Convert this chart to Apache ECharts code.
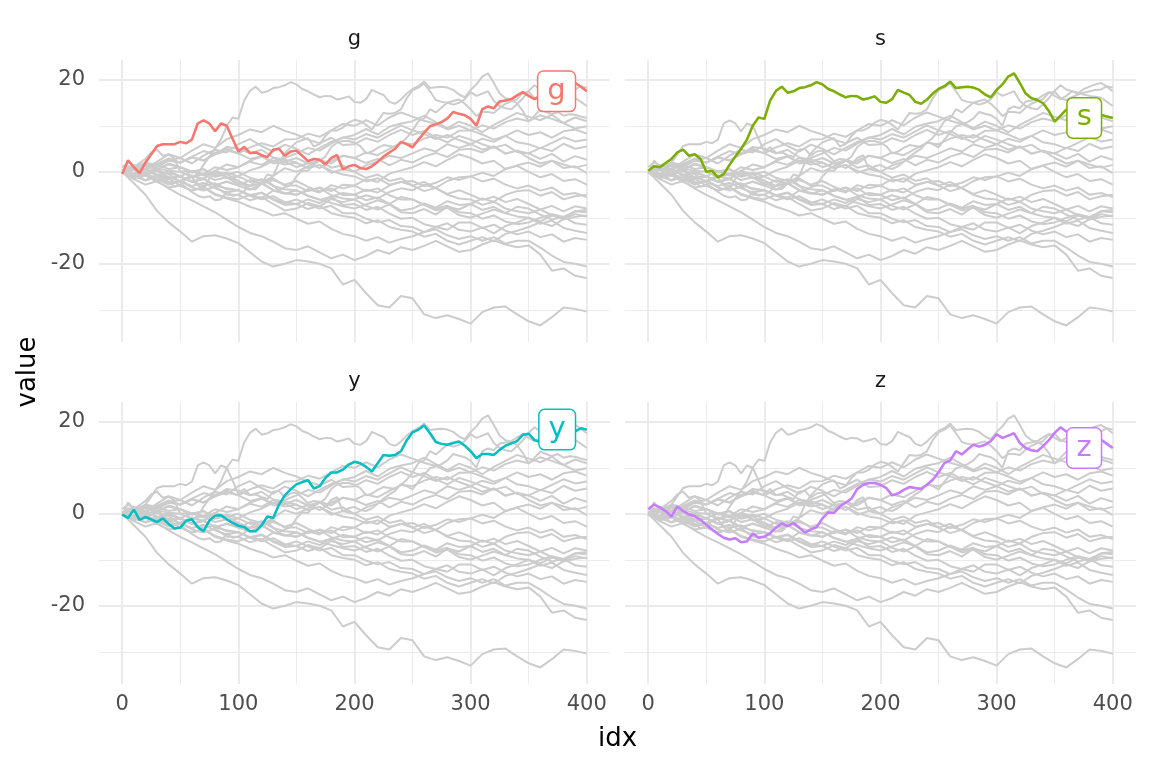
<!DOCTYPE html>
<html>
<head>
<meta charset="utf-8">
<script src="https://cdn.jsdelivr.net/npm/echarts@6/dist/echarts.min.js"></script>
<style>
  html, body { margin: 0; padding: 0; background: #fff; }
  #chart { width: 1152px; height: 768px; }
</style>
</head>
<body>
<div id="chart"></div>
<script>
// idx positions the walks were read at
const idxCoarse = [0,10,20,30,40,50,60,70,80,90,100,110,120,130,140,150,160,170,180,190,200,
  210,220,230,240,250,260,270,280,290,300,310,320,330,340,350,360,370,380,390,400];
const idxFine = [0,5,10,15,20,25,30,35,40,45,50,55,60,65,70,75,80,85,90,95,100,
  105,110,115,120,125,130,135,140,145,150,155,160,165,170,175,180,185,190,195,200,
  205,210,215,220,225,230,235,240,245,250,255,260,265,270,275,280,285,290,295,300,
  305,310,315,320,325,330,335,340,345,350,355,360,365,370,375,380,385,390,395,400];

const xTicks = [0, 100, 200, 300, 400];
const yTicks = [-20, 0, 20];

// highlighted walks (read every 5 idx)
const walkG = [-0.5,2.5,1.0,-0.3,2.0,3.8,5.6,6.0,6.0,6.0, 6.5,6.2,7.0,10.5,11.2,10.5,8.8,10.5,10.0,7.2,
  4.4,5.4,4.1,4.2,3.6,3.2,4.8,5.0,3.5,4.4, 4.6,3.5,2.3,2.8,2.6,1.6,3.0,3.6,0.5,1.2,
  1.5,0.8,0.6,1.2,2.2,3.3,4.2,5.0,6.5,6.0, 5.3,7.0,8.5,9.9,10.3,10.8,11.6,13.0,12.6,12.3,
  11.5,10.0,13.6,14.2,13.8,15.3,15.5,15.8,16.6,17.3, 16.5,15.8,16.5,17.5,17.0,18.0,18.5,19.0,19.3,18.5, 17.5];
const walkS = [0.2,1.2,1.0,1.9,2.8,4.2,4.8,3.5,3.8,2.8, 0.0,0.2,-1.2,-0.5,1.5,3.3,5.0,7.0,10.0,11.8,
  11.5,15.5,17.6,18.5,17.2,17.5,18.2,18.4,18.8,19.5, 19.0,18.0,17.5,16.8,16.2,16.5,16.4,15.7,16.0,16.4,
  15.2,15.0,15.8,17.8,17.2,16.7,15.2,14.8,15.7,17.0, 18.0,18.6,19.6,18.2,18.4,18.5,18.3,17.8,16.8,16.2,
  17.8,19.0,20.7,21.4,19.3,17.0,16.0,15.6,14.9,13.2, 10.9,12.2,13.5,13.0,12.5,13.0,12.2,12.5,12.4,12.0, 11.7];
const walkY = [-0.2,-0.9,0.9,-1.3,-0.7,-1.2,-1.8,-1.0,-2.2,-3.2, -3.0,-1.5,-1.2,-2.9,-3.8,-1.5,-0.4,-0.3,-1.2,-2.0,
  -2.6,-2.9,-3.8,-3.8,-2.5,-0.6,-0.9,2.0,4.0,5.3, 6.4,6.9,7.3,5.5,6.0,7.8,9.0,9.0,9.6,10.7,
  11.3,11.0,10.2,9.2,11.0,12.8,12.6,12.8,13.6,16.0, 17.7,18.3,19.2,17.5,15.6,15.2,15.0,15.4,15.7,14.8,
  13.6,12.1,13.0,13.0,12.8,13.9,14.8,15.3,15.8,17.2, 17.4,16.0,15.6,16.2,16.8,17.2,17.5,17.8,17.9,18.6, 18.3];
const walkZ = [1.0,2.0,1.4,0.6,-0.6,1.6,0.6,-0.1,-0.5,-1.3, -2.4,-3.4,-4.4,-5.2,-5.6,-5.3,-6.2,-6.0,-4.3,-5.2,
  -5.0,-4.2,-3.0,-2.1,-2.7,-2.0,-3.0,-4.1,-3.4,-2.9, -1.0,0.3,0.2,1.6,2.4,3.3,5.4,6.3,6.7,6.7,
  6.3,5.6,4.0,4.4,5.2,5.8,5.6,5.4,6.3,7.4, 9.0,11.0,11.6,13.6,12.9,14.0,15.0,14.6,15.0,15.8,
  17.3,16.5,17.0,17.5,15.4,14.3,13.8,13.6,14.7,16.0, 17.6,18.8,17.9,17.5,17.2,16.8,16.5,16.3,16.1,15.2, 14.3];

// background walks (read every 10 idx)
const walkA = [0,0.8,-0.5,1.2,2.5,3.0,1.8,3.5,4.8,4.2, 6.0,7.1,5.6,4.4,5.9,5.0,3.8,5.2,6.5,7.4,
  8.0,9.3,8.1,9.8,10.5,11.0,12.2,10.8,9.5,10.9, 10.0,8.6,10.2,11.5,12.8,12.0,11.2,12.4,10.6,9.4, 9.9];
const walkB = [0,-0.9,-1.8,-0.6,-2.4,-2.0,-0.8,-1.5,0.2,1.6, 1.0,2.4,3.3,2.2,3.0,4.0,5.2,4.6,6.1,7.5,
  7.0,8.2,7.4,8.8,10.1,9.0,8.2,7.1,8.0,6.9, 6.0,7.2,6.5,7.8,9.0,8.0,8.6,7.4,8.8,9.2, 8.3];
const walkC = [0,1.1,0.3,1.7,2.9,2.0,3.2,2.4,4.1,5.0, 4.0,5.3,6.2,5.5,7.0,7.1,8.3,7.6,9.0,10.4,
  10.0,11.2,10.1,11.8,12.9,12.0,11.1,10.4,9.2,10.0, 9.0,8.1,7.0,7.8,6.4,6.0,5.1,6.3,7.5,6.6, 7.0];
const walkD = [0,1.5,0.6,2.2,3.8,3.0,4.6,6.0,5.2,7.1, 8.0,9.2,8.6,10.0,8.9,8.1,7.0,6.2,7.4,5.8,
  6.0,7.3,6.5,8.0,9.1,8.0,8.9,7.5,6.4,7.8, 7.0,6.0,5.2,5.9,4.3,4.0,2.8,3.9,2.2,3.4, 2.6];
const walkE = [0,-0.6,0.5,-0.8,0.2,-1.0,-2.2,-1.5,-3.0,-2.1, -3.0,-1.8,-2.6,-0.9,0.8,0.0,1.2,2.6,1.8,3.5,
  3.0,1.9,2.8,1.4,2.6,2.0,3.3,4.1,3.2,4.8, 5.0,4.2,5.5,3.9,4.6,3.0,1.8,2.4,0.8,1.2, -0.3];
const walkF = [0,0.7,1.6,0.4,1.8,1.0,-0.2,0.6,-1.1,-0.5, -2.0,-3.1,-2.4,-4.0,-4.6,-5.0,-3.8,-4.5,-2.9,-3.6,
  -3.0,-1.6,-2.2,-0.4,0.3,1.0,2.1,1.2,2.6,3.8, 3.0,1.8,2.4,0.6,1.3,0.0,-1.2,-0.5,-2.0,-1.6, -2.8];
const walkH = [0,-1.0,-0.2,-1.6,-2.8,-2.0,-3.4,-4.1,-3.2,-5.0, -5.0,-6.2,-5.5,-7.0,-8.4,-8.0,-6.8,-7.5,-5.9,-6.6,
  -6.0,-7.4,-8.2,-7.1,-8.8,-9.0,-8.1,-9.3,-7.6,-8.2, -7.0,-5.8,-6.5,-5.0,-4.2,-4.0,-5.2,-4.4,-6.0,-5.3, -5.0];
const walkI = [0,0.9,-0.4,0.5,-1.2,-1.0,0.2,-0.5,1.0,0.4, 1.0,2.2,1.5,3.0,2.2,3.0,1.8,2.5,0.9,1.4,
  0.0,-1.3,-0.6,-2.0,-1.4,-3.0,-2.2,-3.6,-4.8,-4.0, -5.0,-6.1,-5.4,-6.6,-5.9,-7.0,-8.2,-7.4,-8.6,-7.5, -8.0];
const walkJ = [0,-1.2,-0.6,-2.0,-1.5,-3.0,-4.1,-3.3,-4.8,-5.6, -6.0,-5.0,-5.7,-4.1,-4.8,-4.0,-5.3,-6.1,-5.4,-7.2,
  -7.0,-8.3,-7.6,-9.1,-10.2,-10.0,-11.4,-12.0,-11.2,-12.6, -13.0,-12.1,-13.4,-11.8,-11.0,-10.0,-10.8,-9.5,-10.1,-8.6, -8.8];
const walkK = [0,0.6,1.8,1.0,2.4,2.0,3.3,4.5,3.8,5.4, 5.0,4.0,4.8,3.1,2.6,2.0,0.8,1.5,0.2,-0.6,
  -1.0,-2.1,-1.4,-2.8,-2.2,-3.0,-4.2,-3.5,-5.0,-5.8, -6.0,-7.2,-6.5,-8.0,-8.6,-9.0,-8.2,-9.4,-10.4,-9.8, -9.5];
const walkL = [0,-0.8,-1.9,-1.1,-2.5,-2.0,-3.1,-2.4,-3.6,-4.5, -4.0,-5.2,-6.0,-5.3,-6.6,-7.0,-8.1,-7.4,-9.0,-9.6,
  -10.0,-11.2,-10.5,-12.0,-12.6,-13.0,-14.1,-13.5,-15.0,-15.8, -15.0,-14.2,-15.1,-13.5,-12.8,-12.0,-11.0,-11.8,-10.3,-9.2, -9.7];
const walkM = [0,0.5,-0.6,0.2,-1.4,-1.0,-2.2,-1.6,-2.9,-2.2, -3.0,-3.9,-2.6,-1.8,-2.8,-2.0,-3.3,-4.2,-3.6,-5.1,
  -5.0,-6.2,-5.6,-7.0,-8.4,-8.0,-6.9,-7.8,-6.4,-7.2, -7.0,-8.3,-7.6,-9.0,-9.7,-10.0,-11.3,-10.6,-12.2,-12.8, -13.3];
const walkN = [0,-1.4,-0.8,-2.2,-3.4,-3.0,-4.1,-3.4,-5.0,-5.8, -6.5,-7.6,-8.4,-9.5,-9.0,-10.2,-11.3,-10.8,-12.4,-13.5,
  -14.0,-15.0,-14.2,-15.4,-14.6,-14.0,-13.1,-12.0,-12.6,-11.0, -11.0,-12.2,-11.5,-12.8,-13.6,-13.0,-14.2,-13.6,-15.2,-14.4, -14.8];
const walkO = [0,-0.5,0.4,-0.6,-1.5,-1.0,-2.1,-3.0,-2.5,-3.8, -4.0,-5.1,-4.5,-5.9,-6.8,-6.0,-7.1,-8.0,-7.4,-9.0,
  -9.0,-10.2,-11.0,-10.5,-11.8,-12.0,-13.1,-12.5,-13.8,-14.6, -14.0,-15.0,-14.2,-15.6,-15.0,-15.0,-16.5,-18.2,-19.6,-20.0, -20.6];
const walkP = [0,-1.6,-2.8,-2.0,-3.6,-5.0,-6.2,-7.5,-8.8,-10.4, -12.0,-13.3,-14.0,-15.2,-16.6,-17.0,-16.2,-17.5,-18.8,-18.0,
  -19.2,-18.3,-17.0,-17.8,-16.4,-17.0,-16.1,-15.0,-16.2,-17.4, -17.0,-15.8,-14.9,-15.8,-16.4,-16.0,-18.0,-21.5,-21.0,-22.6, -23.1];
const walkQ = [0,-2.5,-5.0,-8.5,-11.0,-13.0,-15.2,-14.0,-13.8,-14.5, -15.5,-17.5,-19.5,-20.6,-20.0,-19.2,-19.5,-20.0,-21.0,-24.5,
  -23.5,-26.4,-29.0,-29.5,-27.0,-27.5,-31.0,-31.8,-31.2,-32.0, -33.0,-30.5,-29.5,-29.3,-31.0,-32.5,-33.4,-31.6,-29.5,-29.8, -30.4];
const walkR = [0,0.9,2.0,1.4,2.6,2.0,3.1,2.5,3.8,4.6, 4.0,2.8,3.4,1.8,2.2,1.0,1.9,0.8,2.4,3.5,
  3.0,4.2,3.6,5.0,6.3,6.0,7.2,8.0,7.4,8.9, 9.0,10.1,9.4,10.8,11.6,11.0,12.3,11.5,10.6,11.8, 11.0];
const walkT = [0,-0.4,0.7,1.5,0.6,1.0,0.1,-0.8,0.2,-1.4, -1.0,0.3,1.1,2.4,1.6,2.0,0.8,1.5,-0.2,0.6,
  0.0,1.4,2.2,3.5,3.0,4.0,5.1,4.4,6.0,5.2, 6.0,4.8,5.5,4.0,4.6,4.0,5.2,4.5,6.1,5.0, 5.5];
const walkU = [0,-1.1,-0.5,-1.8,-1.2,-2.0,-1.0,-1.6,0.2,-0.6, 0.0,-1.3,-2.0,-1.4,-3.0,-3.0,-4.2,-3.5,-5.1,-5.8,
  -6.0,-5.1,-5.8,-4.4,-3.6,-4.0,-2.8,-3.5,-2.0,-1.2, -1.0,-2.1,-1.5,-2.8,-3.6,-3.0,-4.1,-3.4,-5.0,-4.6, -5.5];
const walkV = [0,0.6,-0.5,0.8,0.2,0.0,-1.1,-0.5,-1.8,-1.2, -2.0,-3.1,-2.5,-4.0,-4.6,-5.0,-4.1,-3.4,-4.2,-2.8,
  -3.0,-4.2,-3.6,-5.1,-6.0,-6.0,-7.2,-8.4,-7.8,-9.4, -10.0,-9.1,-8.2,-9.0,-7.6,-8.0,-9.3,-10.4,-9.8,-11.2, -11.5];
const walkW = [0,-0.6,0.4,-0.8,-0.2,-1.0,-2.1,-1.5,-3.0,-3.6, -4.0,-5.2,-4.6,-6.1,-7.2,-7.0,-6.0,-6.8,-5.4,-4.6,
  -5.0,-3.9,-4.5,-3.0,-2.2,-2.0,-3.1,-2.4,-1.2,-1.8, -1.0,-0.2,-0.9,0.6,1.4,2.0,1.1,2.4,1.6,0.9, 1.5];
const walkX = [0,0.4,1.3,0.5,1.6,1.0,0.0,0.6,-0.8,-0.2, -1.0,-2.2,-1.6,-3.1,-3.8,-4.0,-5.2,-6.0,-6.8,-7.5,
  -8.0,-7.1,-6.2,-7.0,-5.5,-6.0,-7.2,-8.0,-7.4,-8.8, -9.0,-10.2,-9.5,-10.8,-11.4,-11.0,-10.0,-9.2,-9.8,-8.6, -8.3];

const letters = ['a','b','c','d','e','f','g','h','i','j','k','l','m','n','o','p','q','r','s','t','u','v','w','x','y','z'];
const walks = [walkA, walkB, walkC, walkD, walkE, walkF, walkG, walkH, walkI, walkJ, walkK, walkL, walkM,
  walkN, walkO, walkP, walkQ, walkR, walkS, walkT, walkU, walkV, walkW, walkX, walkY, walkZ];

const panelNames = ['g', 's', 'y', 'z'];
const panelColors = ['#F8766D', '#7CAE00', '#00BFC4', '#C77CFF'];

const FONT = 'DejaVu Sans';
const GRID_COL = '#EBEBEB';
const CLEAR = 'rgba(0,0,0,0)';

function walkIdx(values) {
  return values.length === idxFine.length ? idxFine : idxCoarse;
}
function pairs(values) {
  const xs = walkIdx(values);
  return values.map((v, k) => [xs[k], v]);
}
// colour list that lights one split line out of every `period`
function cycle(period, pos) {
  const out = [];
  for (let k = 0; k < period; k++) out.push(k === pos ? GRID_COL : CLEAR);
  return out;
}

const panels = [
  { left: 99, top: 60 },
  { left: 625, top: 60 },
  { left: 99, top: 402 },
  { left: 625, top: 402 }
];
const PW = 511, PH = 282;

const grid = [], xAxis = [], yAxis = [], series = [];

panels.forEach((p, pi) => {
  grid.push({ left: p.left, top: p.top, width: PW, height: PH, containLabel: false });
  const showX = pi >= 2, showY = pi % 2 === 0;

  // major + minor x grid lines (ticks counted from -20 in steps of 10)
  xAxis.push({
    gridIndex: pi, type: 'value', min: -20, max: 420, interval: 10,
    axisLine: { show: false }, axisTick: { show: false },
    axisLabel: {
      show: showX, margin: 10, color: '#4D4D4D', fontSize: 21, fontFamily: FONT,
      formatter: v => xTicks.includes(v) ? String(v) : ''
    },
    splitLine: { show: true, lineStyle: { color: cycle(10, 2), width: 2 } }
  });
  xAxis.push({
    gridIndex: pi, type: 'value', min: -20, max: 420, interval: 10, position: 'top',
    axisLine: { show: false }, axisTick: { show: false }, axisLabel: { show: false },
    splitLine: { show: true, lineStyle: { color: cycle(10, 7), width: 1 } }
  });
  // major + minor y grid lines (ticks counted from -37 in steps of 1)
  yAxis.push({
    gridIndex: pi, type: 'value', min: -37, max: 24.3, interval: 1,
    axisLine: { show: false }, axisTick: { show: false },
    axisLabel: {
      show: showY, margin: 14, color: '#4D4D4D', fontSize: 21, fontFamily: FONT,
      formatter: v => yTicks.includes(v) ? String(v) : ''
    },
    splitLine: { show: true, lineStyle: { color: cycle(20, 17), width: 2 } }
  });
  yAxis.push({
    gridIndex: pi, type: 'value', min: -37, max: 24.3, interval: 1, position: 'right',
    axisLine: { show: false }, axisTick: { show: false }, axisLabel: { show: false },
    splitLine: { show: true, lineStyle: { color: cycle(20, 7), width: 1 } }
  });

  const xi = pi * 2, yi = pi * 2;
  walks.forEach((w) => {
    series.push({
      type: 'line', xAxisIndex: xi, yAxisIndex: yi, data: pairs(w),
      showSymbol: false, silent: true, animation: false, z: 2,
      lineStyle: { color: '#CCCCCC', width: 2 }
    });
  });

  const name = panelNames[pi];
  const vals = walks[letters.indexOf(name)];
  const xs = walkIdx(vals);
  const color = panelColors[pi];
  series.push({
    type: 'line', xAxisIndex: xi, yAxisIndex: yi, data: pairs(vals),
    showSymbol: false, silent: true, animation: false, z: 3,
    lineStyle: { color: color, width: 2.5 },
    markPoint: {
      symbol: 'circle', symbolSize: 0, silent: true, animation: false,
      data: [{ coord: [xs[xs.length - 1], vals[vals.length - 1]] }],
      label: {
        show: true, position: 'left', distance: 12, formatter: name,
        color: color, fontSize: 29, fontFamily: FONT, lineHeight: 30,
        backgroundColor: '#fff', borderColor: color, borderWidth: 1.5, borderRadius: 5,
        padding: [4, 9, 5, 9]
      }
    }
  });
});

const graphic = [];
panels.forEach((p, pi) => {
  graphic.push({
    type: 'text', x: p.left + PW / 2, y: p.top - 20, z: 10,
    style: { text: panelNames[pi], align: 'center', verticalAlign: 'middle',
      font: '21px "DejaVu Sans"', fill: '#1A1A1A' }
  });
});
graphic.push({
  type: 'text', x: 28, y: 372, rotation: Math.PI / 2,
  style: { text: 'value', align: 'center', verticalAlign: 'middle', font: '26px "DejaVu Sans"', fill: '#000' }
});
graphic.push({
  type: 'text', x: 617.5, y: 739,
  style: { text: 'idx', align: 'center', verticalAlign: 'middle', font: '26px "DejaVu Sans"', fill: '#000' }
});

const chart = echarts.init(document.getElementById('chart'), null, { renderer: 'canvas' });
chart.setOption({
  backgroundColor: '#fff',
  animation: false,
  grid, xAxis, yAxis, series, graphic
});
</script>
</body>
</html>
